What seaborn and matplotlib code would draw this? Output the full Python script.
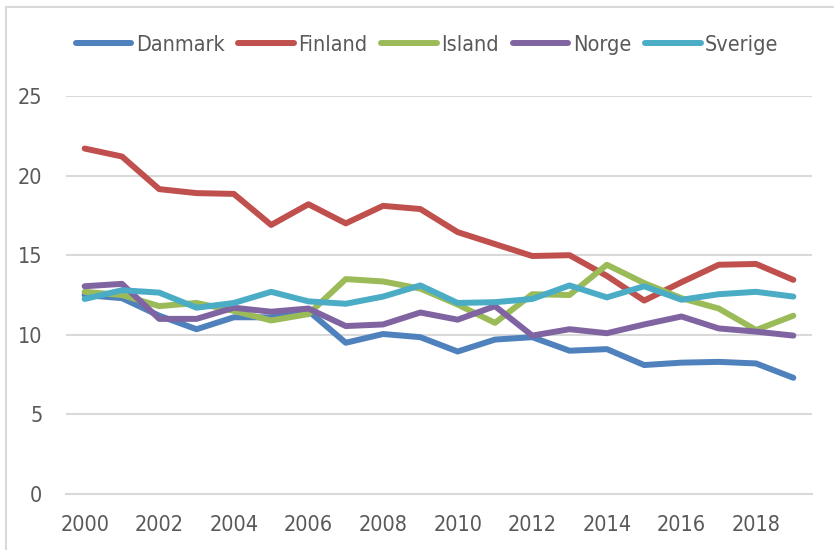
import pandas as pd
import matplotlib.pyplot as plt
import matplotlib.patches as mpatches
from matplotlib import font_manager
import seaborn as sns

# Values
years = list(range(2000, 2020))
danmark = [12.5, 12.3, 11.2, 10.35, 11.1, 11.1, 11.5, 9.5, 10.05, 9.85,
           8.95, 9.7, 9.85, 9.0, 9.1, 8.1, 8.25, 8.3, 8.2, 7.3]
finland = [21.7, 21.2, 19.15, 18.9, 18.85, 16.9, 18.2, 17.0, 18.1, 17.9,
           16.45, 15.7, 14.95, 15.0, 13.7, 12.15, 13.3, 14.4, 14.45, 13.45]
island = [12.7, 12.5, 11.8, 12.0, 11.5, 10.9, 11.3, 13.5, 13.35, 12.9,
          11.9, 10.75, 12.55, 12.5, 14.4, 13.25, 12.3, 11.65, 10.3, 11.2]
norge = [13.05, 13.2, 11.0, 11.0, 11.7, 11.45, 11.65, 10.55, 10.65, 11.4,
         10.95, 11.8, 9.95, 10.35, 10.1, 10.65, 11.15, 10.4, 10.2, 9.95]
sverige = [12.25, 12.8, 12.65, 11.7, 12.0, 12.7, 12.1, 11.95, 12.4, 13.1,
           12.0, 12.05, 12.25, 13.1, 12.35, 13.05, 12.2, 12.55, 12.7, 12.4]

countries = ['Danmark', 'Finland', 'Island', 'Norge', 'Sverige']
colors = ['#4F81BD', '#C0504D', '#9BBB59', '#8064A2', '#4BACC6']

df = pd.DataFrame({'År': years, 'Danmark': danmark, 'Finland': finland,
                   'Island': island, 'Norge': norge, 'Sverige': sverige})
long_df = df.melt(id_vars='År', var_name='Land', value_name='Verdi')

sns.set_style('white')

# the reference uses a narrow font; pick a condensed face if one is installed
narrow = None
for f in font_manager.fontManager.ttflist:
    name = f.name.lower()
    cond = ('narrow' in name or 'condensed' in name
            or str(f.stretch).lower() in ('condensed', 'semi-condensed', 'extra-condensed'))
    if cond and f.style == 'normal' and f.weight in (400, 'normal', 'regular'):
        narrow = f
        break
if narrow is not None:
    plt.rcParams['font.family'] = [narrow.name, 'DejaVu Sans']
    plt.rcParams['font.stretch'] = narrow.stretch
    fs = 15.5
else:
    plt.rcParams['font.family'] = ['DejaVu Sans']
    fs = 13.5

text_col = '#595959'
grid_col = '#D9D9D9'

fig = plt.figure(figsize=(8.34, 5.5), dpi=100)
ax = fig.add_axes([66 / 834, 1 - 494 / 550, (812 - 66) / 834, (494 - 96) / 550])

sns.lineplot(data=long_df, x='År', y='Verdi', hue='Land', hue_order=countries,
             palette=colors, linewidth=4.3, ax=ax, solid_capstyle='round')

ax.set_xlim(1999.5, 2019.5)
ax.set_ylim(0, 25)
ax.set_yticks([0, 5, 10, 15, 20, 25])
ax.set_xticks(years[::2])
ax.set_xticks([y - 0.5 for y in years] + [2019.5], minor=True)
ax.set_xlabel('')
ax.set_ylabel('')

ax.grid(axis='y', color=grid_col, linewidth=1.5)
ax.set_axisbelow(True)
for side in ['top', 'right', 'left']:
    ax.spines[side].set_visible(False)
ax.spines['bottom'].set_color(grid_col)
ax.spines['bottom'].set_linewidth(1.5)

ax.tick_params(axis='x', which='major', length=0, pad=15, labelsize=fs, labelcolor=text_col)
ax.tick_params(axis='x', which='minor', length=11, width=1.5, direction='inout', color=grid_col)
ax.tick_params(axis='y', length=0, pad=17, labelsize=fs, labelcolor=text_col)

leg = ax.legend(loc='center', bbox_to_anchor=(427 / 834, 1 - 45 / 550),
                bbox_transform=fig.transFigure, ncol=5, frameon=False,
                fontsize=fs, handlelength=40 / fs, handletextpad=0.2,
                columnspacing=0.65)
for t in leg.get_texts():
    t.set_color(text_col)
for h in leg.get_lines():
    h.set_linewidth(4.3)
    h.set_solid_capstyle('round')

# outer chart frame (only top and left edges visible in the reference)
fig.patches.append(mpatches.Rectangle((6 / 834, -0.2), 1.5, 1.2 - 7 / 550,
                                      transform=fig.transFigure, fill=False,
                                      edgecolor=grid_col, linewidth=1.5))

fig.savefig('out.png', dpi=100)
